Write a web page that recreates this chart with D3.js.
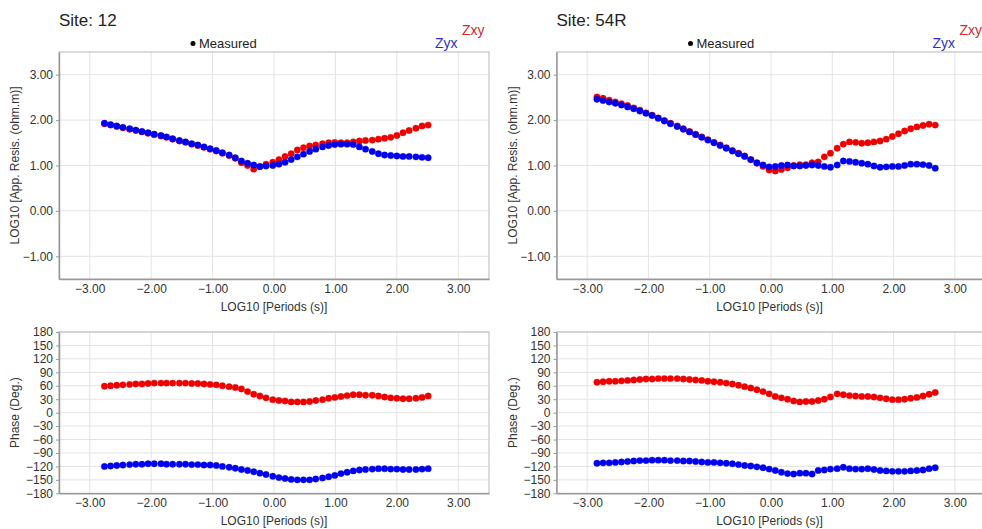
<!DOCTYPE html>
<html>
<head>
<meta charset="utf-8">
<script src="https://cdn.jsdelivr.net/npm/d3@7"></script>
<style>
  body { margin: 0; background: #fff; }
  svg { display: block; font-family: "Liberation Sans", Arial, sans-serif; }
</style>
</head>
<body>
<div id="chart"></div>
<script>
// Site 12 - log10 periods
const periods12 = [-2.76, -2.66, -2.56, -2.46, -2.35, -2.25, -2.15, -2.05, -1.95, -1.84,
  -1.75, -1.65, -1.54, -1.44, -1.34, -1.24, -1.14, -1.04, -0.94, -0.84,
  -0.73, -0.63, -0.53, -0.43, -0.33, -0.23, -0.13, -0.02, 0.08, 0.18,
  0.28, 0.38, 0.48, 0.58, 0.68, 0.79, 0.89, 0.99, 1.09, 1.19,
  1.29, 1.39, 1.49, 1.60, 1.70, 1.80, 1.90, 2.00, 2.10, 2.20,
  2.31, 2.41, 2.51];
const rhoXy12 = [1.92, 1.89, 1.86, 1.83, 1.80, 1.77, 1.74, 1.71, 1.68, 1.65,
  1.62, 1.58, 1.54, 1.51, 1.47, 1.44, 1.40, 1.36, 1.32, 1.27,
  1.22, 1.16, 1.06, 1.00, 0.92, 0.97, 1.03, 1.07, 1.13, 1.20,
  1.26, 1.34, 1.39, 1.43, 1.45, 1.48, 1.50, 1.51, 1.50, 1.50,
  1.52, 1.54, 1.55, 1.56, 1.58, 1.60, 1.62, 1.66, 1.72, 1.77,
  1.82, 1.87, 1.89];
const rhoYx12 = [1.93, 1.90, 1.87, 1.84, 1.81, 1.78, 1.75, 1.72, 1.69, 1.66,
  1.63, 1.59, 1.55, 1.52, 1.48, 1.45, 1.41, 1.37, 1.33, 1.28,
  1.23, 1.17, 1.10, 1.05, 1.01, 0.98, 0.99, 1.00, 1.03, 1.07,
  1.13, 1.19, 1.25, 1.31, 1.36, 1.41, 1.44, 1.46, 1.47, 1.47,
  1.46, 1.41, 1.36, 1.31, 1.26, 1.23, 1.22, 1.21, 1.20, 1.20,
  1.19, 1.18, 1.17];
const phiXy12 = [59, 60, 61, 62, 63, 64, 64, 65, 66, 66,
  66, 66, 66, 66, 65, 65, 64, 63, 62, 60,
  58, 56, 53, 47, 41, 37, 33, 29, 27, 26,
  24, 24, 24, 25, 27, 29, 32, 34, 36, 38,
  40, 40, 39, 39, 37, 35, 33, 32, 31, 31,
  32, 34, 37];
const phiYx12 = [-120, -119, -118, -117, -116, -115, -115, -114, -114, -114,
  -115, -115, -115, -115, -116, -116, -117, -117, -118, -120,
  -122, -124, -127, -129, -132, -135, -138, -142, -145, -147,
  -149, -150, -150, -150, -148, -146, -143, -140, -136, -133,
  -130, -128, -127, -126, -125, -125, -126, -126, -127, -127,
  -127, -126, -125];

// Site 54R - log10 periods
const periods54 = [-2.84, -2.74, -2.64, -2.54, -2.44, -2.34, -2.24, -2.14, -2.04, -1.94,
  -1.84, -1.74, -1.64, -1.53, -1.43, -1.33, -1.23, -1.13, -1.03, -0.93,
  -0.83, -0.73, -0.63, -0.53, -0.43, -0.33, -0.23, -0.13, -0.03, 0.07,
  0.17, 0.27, 0.37, 0.47, 0.57, 0.67, 0.77, 0.87, 0.97, 1.08,
  1.18, 1.28, 1.38, 1.48, 1.58, 1.68, 1.78, 1.88, 1.98, 2.08,
  2.18, 2.28, 2.38, 2.48, 2.58, 2.68];
const rhoXy54 = [2.51, 2.48, 2.44, 2.40, 2.36, 2.32, 2.27, 2.22, 2.16, 2.11,
  2.05, 1.99, 1.93, 1.87, 1.81, 1.75, 1.69, 1.63, 1.57, 1.51,
  1.45, 1.39, 1.33, 1.27, 1.21, 1.13, 1.05, 0.98, 0.90, 0.88,
  0.91, 0.95, 1.00, 1.02, 1.02, 1.06, 1.08, 1.19, 1.27, 1.38,
  1.47, 1.52, 1.51, 1.49, 1.50, 1.52, 1.54, 1.58, 1.64, 1.70,
  1.76, 1.81, 1.85, 1.88, 1.91, 1.89];
const rhoYx54 = [2.46, 2.43, 2.40, 2.37, 2.33, 2.29, 2.25, 2.20, 2.15, 2.10,
  2.04, 1.98, 1.92, 1.86, 1.80, 1.74, 1.68, 1.62, 1.56, 1.50,
  1.44, 1.38, 1.32, 1.26, 1.20, 1.13, 1.06, 1.01, 0.97, 0.98,
  1.00, 1.01, 0.99, 0.99, 1.00, 1.01, 1.00, 0.98, 0.96, 1.01,
  1.10, 1.09, 1.07, 1.05, 1.03, 0.99, 0.96, 0.97, 0.98, 0.98,
  1.00, 1.03, 1.03, 1.02, 1.00, 0.94];
const phiXy54 = [68, 69, 70, 70, 71, 72, 73, 74, 75, 75,
  76, 76, 76, 76, 75, 74, 73, 72, 70, 69,
  68, 66, 64, 61, 58, 55, 51, 47, 42, 36,
  33, 30, 26, 24, 25, 25, 27, 30, 35, 42,
  40, 38, 37, 36, 36, 35, 33, 31, 29, 29,
  30, 32, 34, 37, 41, 45];
const phiYx54 = [-113, -112, -112, -111, -110, -109, -108, -107, -107, -106,
  -106, -106, -107, -107, -108, -108, -109, -110, -111, -111,
  -112, -113, -114, -116, -118, -119, -121, -123, -126, -129,
  -133, -136, -137, -135, -135, -137, -129, -128, -126, -125,
  -122, -125, -126, -126, -125, -127, -129, -130, -131, -131,
  -131, -130, -129, -128, -125, -123];

const xTicks = [-3, -2, -1, 0, 1, 2, 3];
const rhoTicks = [-1, 0, 1, 2, 3];
const phiTicks = [-180, -150, -120, -90, -60, -30, 0, 30, 60, 90, 120, 150, 180];

const sites = [
  {name: "Site: 12", periods: periods12, rhoXy: rhoXy12, rhoYx: rhoYx12, phiXy: phiXy12, phiYx: phiYx12, left: 59, right: 489},
  {name: "Site: 54R", periods: periods54, rhoXy: rhoXy54, rhoYx: rhoYx54, phiXy: phiXy54, phiYx: phiYx54, left: 556.5, right: 985.5}
];

const red = "#ee0000", blue = "#0000ee";

const svg = d3.select("#chart").append("svg")
    .attr("width", 982)
    .attr("height", 529);

function drawPanel(site, yDomain, yRange, yTicks, yFmt, yLabel) {
    const x = d3.scaleLinear().domain([-3.5, 3.5]).range([site.left, site.right]);
    const y = d3.scaleLinear().domain(yDomain).range(yRange);
    const g = svg.append("g");

    // grid
    g.selectAll(".vg").data(xTicks).enter().append("line")
        .attr("x1", d => x(d)).attr("x2", d => x(d))
        .attr("y1", yRange[1]).attr("y2", yRange[0])
        .attr("stroke", "#e3e3e3");
    g.selectAll(".hg").data(yTicks).enter().append("line")
        .attr("x1", site.left).attr("x2", site.right)
        .attr("y1", d => y(d)).attr("y2", d => y(d))
        .attr("stroke", "#e3e3e3");

    // frame
    g.append("rect")
        .attr("x", site.left).attr("y", yRange[1])
        .attr("width", site.right - site.left).attr("height", yRange[0] - yRange[1])
        .attr("fill", "none").attr("stroke", "#b8b8b8");

    const yAxis = g.append("g")
        .attr("transform", `translate(${site.left},0)`)
        .call(d3.axisLeft(y).tickValues(yTicks).tickFormat(yFmt).tickSize(3).tickSizeOuter(0));
    yAxis.select(".domain").attr("stroke", "#999").attr("stroke-width", 1.5);
    yAxis.selectAll(".tick line").attr("stroke", "#999");
    yAxis.selectAll("text").attr("fill", "#333").attr("font-size", 12);

    const xAxis = g.append("g")
        .attr("transform", `translate(0,${yRange[0]})`)
        .call(d3.axisBottom(x).tickValues(xTicks).tickFormat(d3.format(".2f")).tickSize(0).tickSizeOuter(0).tickPadding(5));
    xAxis.select(".domain").attr("stroke", "#999").attr("stroke-width", 1.5);
    xAxis.selectAll("text").attr("fill", "#333").attr("font-size", 12);

    g.append("text")
        .attr("x", (site.left + site.right) / 2 - (site.right > 982 ? 1.5 : 0))
        .attr("y", yRange[0] + 31.5)
        .attr("text-anchor", "middle")
        .attr("font-size", 12).attr("fill", "#333")
        .text("LOG10 [Periods (s)]");

    g.append("text")
        .attr("transform", `translate(${site.left - 40},${(yRange[0] + yRange[1]) / 2}) rotate(-90)`)
        .attr("text-anchor", "middle")
        .attr("font-size", 12).attr("fill", "#333")
        .text(yLabel);

    return {x, y, g};
}

function drawDots(panel, periods, values, color) {
    panel.g.append("g").selectAll("circle")
        .data(periods.map((p, i) => ({p, v: values[i]})))
        .enter().append("circle")
        .attr("cx", d => panel.x(d.p))
        .attr("cy", d => panel.y(d.v))
        .attr("r", 3.2)
        .attr("fill", color)
        .attr("stroke", color)
        .attr("stroke-opacity", 0.35)
        .attr("stroke-width", 1);
}

sites.forEach(site => {
    svg.append("text")
        .attr("x", site.left).attr("y", 26)
        .attr("font-size", 17).attr("fill", "#222")
        .text(site.name);

    const top = drawPanel(site, [-1.5, 3.5], [279, 52], rhoTicks, d3.format(".2f"), "LOG10 [App. Resis. (ohm.m)]");
    drawDots(top, site.periods, site.rhoXy, red);
    drawDots(top, site.periods, site.rhoYx, blue);

    const bot = drawPanel(site, [-180, 180], [493.3, 332], phiTicks, d3.format("d"), "Phase (Deg.)");
    drawDots(bot, site.periods, site.phiXy, red);
    drawDots(bot, site.periods, site.phiYx, blue);

    // legend
    svg.append("circle")
        .attr("cx", site.left + 134).attr("cy", 43.5).attr("r", 2.5).attr("fill", "#000");
    svg.append("text")
        .attr("x", site.left + 140).attr("y", 48)
        .attr("font-size", 13).attr("fill", "#222")
        .text("Measured");
    svg.append("text")
        .attr("x", site.left + 403).attr("y", 35)
        .attr("font-size", 14).attr("fill", "#d42a2a")
        .text("Zxy");
    svg.append("text")
        .attr("x", site.left + 376).attr("y", 48)
        .attr("font-size", 14).attr("fill", "#2f2fc8")
        .text("Zyx");
});
</script>
</body>
</html>
